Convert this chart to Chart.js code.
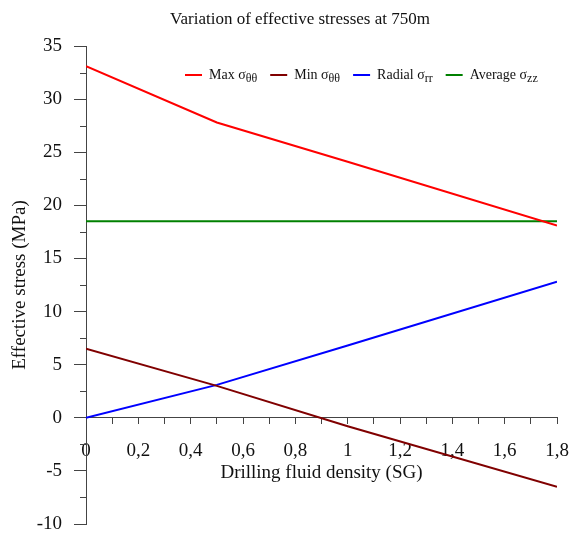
<!DOCTYPE html>
<html>
<head>
<meta charset="utf-8">
<script src="https://cdn.jsdelivr.net/npm/chart.js@4.4.1/dist/chart.umd.min.js"></script>
<style>
    html, body { margin: 0; padding: 0; background: #fff; }
    #wrap { width: 570px; height: 534px; position: relative; }
</style>
</head>
<body>
<div id="wrap"><canvas id="stressChart"></canvas></div>
<script>
// Drilling fluid density (SG) and effective stresses (MPa) at 750 m
const density = [0, 0.5, 1.0, 1.8];
const maxHoop = [33.1, 27.8, 24.1, 18.1];
const minHoop = [6.5, 3.0, -0.8, -6.5];
const radial = [0, 3.1, 6.8, 12.8];
const axial = [18.5, 18.5, 18.5, 18.5];

const seriesNames = ['Max σ', 'Min σ', 'Radial σ', 'Average σ'];
const seriesSubs = ['θθ', 'θθ', 'rr', 'zz'];
const seriesColors = ['#ff0000', '#800000', '#0000ff', '#008000'];

const titleText = 'Variation of effective stresses at 750m';
const xTitle = 'Drilling fluid density (SG)';
const yTitle = 'Effective stress (MPa)';

const serif = '"Liberation Serif", "Times New Roman", serif';
const axisColor = '#444';
const textColor = '#111';

Chart.defaults.font.family = serif;
Chart.defaults.color = textColor;

const toPoints = ys => density.map((x, i) => ({ x, y: ys[i] }));

// Title, x-axis title, minor y ticks and the legend with subscripts
const decorations = {
    id: 'decorations',
    afterDraw(chart) {
        const { ctx, chartArea, scales } = chart;
        const ys = scales.y;
        ctx.save();

        // minor y ticks (short)
        ctx.strokeStyle = axisColor;
        ctx.lineWidth = 1;
        ys.ticks.forEach(t => {
            if (Math.abs(t.value % 5) < 1e-6) return;
            const py = Math.round(ys.getPixelForValue(t.value)) + 0.5;
            ctx.beginPath();
            ctx.moveTo(chartArea.left - 6, py);
            ctx.lineTo(chartArea.left, py);
            ctx.stroke();
        });

        ctx.fillStyle = textColor;
        ctx.textAlign = 'center';
        ctx.textBaseline = 'middle';
        ctx.font = '17px ' + serif;
        ctx.fillText(titleText, 300, 20);

        ctx.font = '19px ' + serif;
        const axisY = ys.getPixelForValue(0);
        ctx.fillText(xTitle, (chartArea.left + chartArea.right) / 2, axisY + 55);

        // legend
        let lx = 185;
        const ly = 75;
        ctx.textAlign = 'left';
        ctx.textBaseline = 'alphabetic';
        seriesNames.forEach((name, i) => {
            ctx.strokeStyle = seriesColors[i];
            ctx.lineWidth = 2;
            ctx.beginPath();
            ctx.moveTo(lx, ly);
            ctx.lineTo(lx + 17, ly);
            ctx.stroke();
            lx += 24;
            ctx.font = '14px ' + serif;
            ctx.fillText(name, lx, ly + 4);
            lx += ctx.measureText(name).width;
            ctx.font = '12px ' + serif;
            ctx.fillText(seriesSubs[i], lx, ly + 7);
            lx += ctx.measureText(seriesSubs[i]).width + 13;
        });
        ctx.restore();
    }
};

const fmtX = v => {
    const r = Math.round(v * 10);
    if (r % 2 !== 0) return '';
    return String(r / 10).replace('.', ',');
};

new Chart(document.getElementById('stressChart').getContext('2d'), {
    type: 'line',
    data: {
        datasets: [maxHoop, minHoop, radial, axial].map((ys, i) => ({
            label: seriesNames[i] + seriesSubs[i],
            data: toPoints(ys),
            borderColor: seriesColors[i],
            backgroundColor: seriesColors[i],
            borderWidth: 2,
            pointRadius: 0,
            tension: 0,
            fill: false
        }))
    },
    options: {
        responsive: true,
        maintainAspectRatio: false,
        animation: false,
        layout: { padding: { top: 46, right: 13, bottom: 10, left: 0 } },
        plugins: {
            legend: { display: false },
            title: { display: false },
            tooltip: { enabled: false }
        },
        scales: {
            x: {
                type: 'linear',
                position: { y: 0 },
                min: 0,
                max: 1.8,
                afterFit: s => {
                    s.height = 0;
                    s.paddingLeft = 0; s.paddingRight = 0;
                    s.paddingTop = 0; s.paddingBottom = 0;
                },
                border: { display: true, color: axisColor, width: 1 },
                grid: { drawOnChartArea: false, tickLength: 6, color: axisColor },
                ticks: {
                    stepSize: 0.1,
                    autoSkip: false,
                    maxTicksLimit: 50,
                    maxRotation: 0,
                    padding: 16,
                    font: { size: 19 },
                    callback: v => fmtX(v)
                }
            },
            y: {
                min: -10,
                max: 35,
                afterFit: s => {
                    s.width = 86;
                    s.paddingLeft = 0; s.paddingRight = 0;
                    s.paddingTop = 0; s.paddingBottom = 0;
                },
                border: { display: true, color: axisColor, width: 1 },
                grid: {
                    drawOnChartArea: false,
                    tickLength: 12,
                    tickColor: c => (c.tick && Math.abs(c.tick.value % 5) < 1e-6) ? axisColor : 'transparent'
                },
                ticks: {
                    stepSize: 2.5,
                    autoSkip: false,
                    maxTicksLimit: 50,
                    padding: 12,
                    font: { size: 19 },
                    callback: v => (Math.abs(v % 5) < 1e-6 ? String(v) : '')
                },
                title: {
                    display: true,
                    text: yTitle,
                    font: { size: 19 },
                    padding: { top: 9, bottom: 0 }
                }
            }
        }
    },
    plugins: [decorations]
});
</script>
</body>
</html>
